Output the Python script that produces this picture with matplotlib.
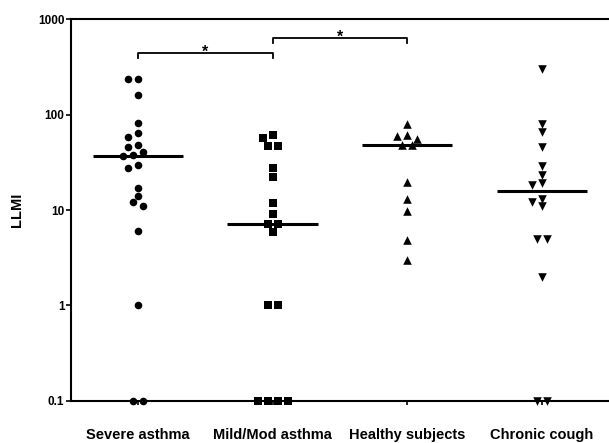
import numpy as np
import matplotlib.pyplot as plt
from matplotlib.ticker import NullLocator

plt.rcParams['font.family'] = ['Liberation Sans', 'DejaVu Sans']
plt.rcParams['font.weight'] = 'bold'

groups = ['Severe asthma', 'Mild/Mod asthma', 'Healthy subjects', 'Chronic cough']
severe = [237, 235, 161, 82, 63.7, 58.7, 48, 45.4, 40.8, 37.7, 36.8, 30, 27.3,
          17.1, 14, 12, 11.1, 6, 1, 0.1, 0.1]
mild = [61.1, 57.3, 46.8, 46.8, 27.4, 22, 11.9, 9.0, 7.07, 7.07, 5.9, 1, 1,
        0.1, 0.1, 0.1, 0.1]
healthy = [79, 61, 59.6, 55, 47.7, 47.7, 19.8, 12.9, 9.8, 4.9, 2.98]
chronic = [298, 79.6, 65.2, 45.4, 29.1, 23.2, 19, 18.2, 13.2, 12.2, 11.1,
           4.96, 4.96, 1.99, 0.1, 0.1]
markers = ['o', 's', '^', 'v']
yticks = [0.1, 1, 10, 100, 1000]
ytick_labels = ['0.1', '1', '10', '100', '1000']
# significance brackets: (group from, group to, height)
brackets = [(0, 1, 440), (1, 2, 632)]


def swarm(ax, i, vals, step=5.0, dmin=7.0):
    # simple beeswarm in pixel space
    tr = ax.transData
    vals = np.asarray(vals, dtype=float)
    x0 = tr.transform((i, 1))[0]
    ys = tr.transform(np.column_stack([np.full(len(vals), i), vals]))[:, 1]
    cands = [0.0]
    for k in range(1, 20):
        cands += [-k * step, k * step]
    xs = np.zeros(len(vals))
    placed = []
    for j in np.argsort(-ys):
        for c in cands:
            if all((c - px) ** 2 + (ys[j] - py) ** 2 >= dmin ** 2 for px, py in placed):
                break
        placed.append((c, ys[j]))
        xs[j] = c
    # center exact ties
    for v in np.unique(vals):
        idx = np.where(vals == v)[0]
        if len(idx) > 1:
            xs[idx] -= xs[idx].mean()
    pts = tr.inverted().transform(np.column_stack([x0 + xs, ys]))
    return pts[:, 0]


fig = plt.figure(figsize=(6.09, 4.43), dpi=100)
ax = fig.add_axes([70.7 / 609, 42.3 / 443, (609 - 70.7) / 609, (400.7 - 19.3) / 443])
ax.set_yscale('log')
ax.set_ylim(0.1, 1000)
ax.set_xlim(-0.5, 3.5)

sizes = [30, 28, 38, 38]
for i, vals in enumerate([severe, mild, healthy, chronic]):
    xs = swarm(ax, i, vals)
    ax.scatter(xs, vals, marker=markers[i], s=sizes[i],
               color='black', linewidths=0, clip_on=False, zorder=4)
    med = np.median(vals)
    ax.hlines(med, i - 0.335, i + 0.335, color='black', lw=2.2, zorder=3)

for a, b, h in brackets:
    ax.plot([a, a, b, b], [h * 0.886, h, h, h * 0.886], color='black', lw=1.3,
            clip_on=False)
    ax.annotate('*', ((a + b) / 2, h), xytext=(0, -2.5), textcoords='offset points',
                ha='center', va='baseline', fontsize=11.5, fontweight='bold')

for s in ['left', 'top', 'bottom']:
    ax.spines[s].set_linewidth(1.5)
ax.spines['right'].set_visible(False)

ax.set_yticks(yticks)
ax.set_yticklabels(ytick_labels)
ax.yaxis.set_minor_locator(NullLocator())
ax.set_xticks(range(len(groups)))
ax.set_xticklabels(groups)
ax.tick_params(axis='y', direction='out', length=3.5, width=1.2, pad=1, labelsize=8.5)
ax.tick_params(axis='x', direction='out', length=3, width=1.2, pad=17, labelsize=10.5)
ax.set_ylabel('LLMI', fontsize=10.5, fontweight='bold')
ax.yaxis.set_label_coords(-0.087, 0.5)

fig.savefig('out.png', dpi=100)
